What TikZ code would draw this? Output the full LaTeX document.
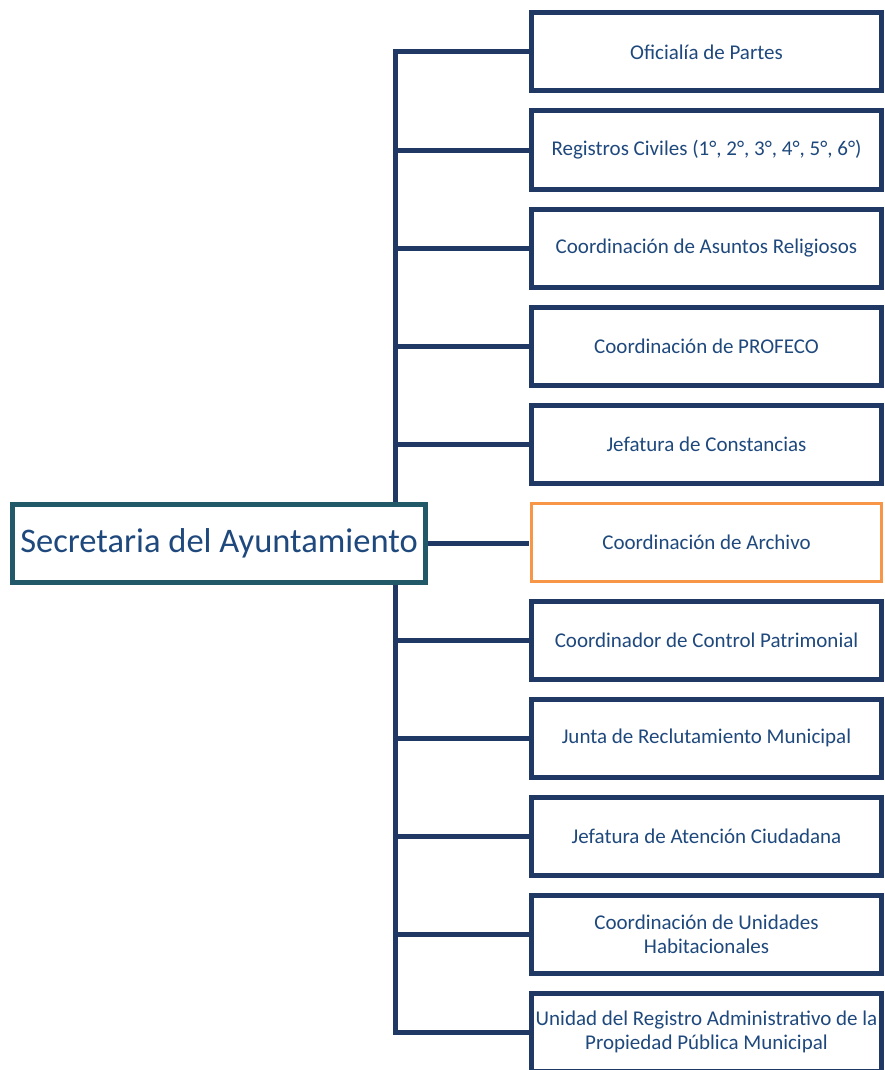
\documentclass[tikz,border=0pt]{standalone}
\usepackage{fontspec}
\setmainfont{Carlito}
\usetikzlibrary{positioning}

\definecolor{linkblue}{HTML}{203864}
\definecolor{textblue}{HTML}{1F497D}
\definecolor{headteal}{HTML}{215968}
\definecolor{markorange}{HTML}{F79646}

\begin{document}
\begin{tikzpicture}[
  x=1pt, y=-1pt,
  unit/.style={draw=linkblue, line width=5pt, fill=white, minimum width=350pt, minimum height=78pt,
    align=center, text=textblue, inner sep=0pt, font=\fontsize{21}{24}\selectfont},
  marked/.style={draw=markorange, line width=3pt, outer sep=2.5pt},
  head/.style={draw=headteal, line width=5pt, fill=white, minimum width=413pt, minimum height=78pt,
    text=textblue, inner sep=0pt, font=\fontsize{34.5}{40}\selectfont},
  link/.style={draw=linkblue, line width=5pt},
  node distance=15pt
]
\useasboundingbox (0,0) rectangle (884,1070);

\node[unit] (oficialia) at (706.5,52) {Oficialía de Partes};
\node[unit, below=of oficialia] (registros) {Registros Civiles (1°, 2°, 3°, 4°, 5°, 6°)};
\node[unit, below=of registros] (religiosos) {Coordinación de Asuntos Religiosos};
\node[unit, below=of religiosos] (profeco) {Coordinación de PROFECO};
\node[unit, below=of profeco] (constancias) {Jefatura de Constancias};
\node[unit, marked, below=of constancias] (archivo) {Coordinación de Archivo};
\node[unit, below=of archivo] (patrimonial) {Coordinador de Control Patrimonial};
\node[unit, below=of patrimonial] (reclutamiento) {Junta de Reclutamiento Municipal};
\node[unit, below=of reclutamiento] (atencion) {Jefatura de Atención Ciudadana};
\node[unit, below=of atencion] (habitacionales) {Coordinación de Unidades\\Habitacionales};
\node[unit, below=of habitacionales] (propiedad) {Unidad del Registro Administrativo de la\\Propiedad Pública Municipal};

% spine of the tree, hidden behind the head box
\coordinate (spine) at (395,543.5);
\draw[link] (oficialia.west) -| (spine);
\draw[link] (registros.west) -| (spine);
\draw[link] (religiosos.west) -| (spine);
\draw[link] (profeco.west) -| (spine);
\draw[link] (constancias.west) -| (spine);
\draw[link] (patrimonial.west) -| (spine);
\draw[link] (reclutamiento.west) -| (spine);
\draw[link] (atencion.west) -| (spine);
\draw[link] (habitacionales.west) -| (spine);
\draw[link] (propiedad.west) -| (spine);

\node[head] (secretaria) at (219,543.5) {Secretaria del Ayuntamiento};
\draw[link] (secretaria.east) -- (secretaria.east -| archivo.west);
\end{tikzpicture}
\end{document}
